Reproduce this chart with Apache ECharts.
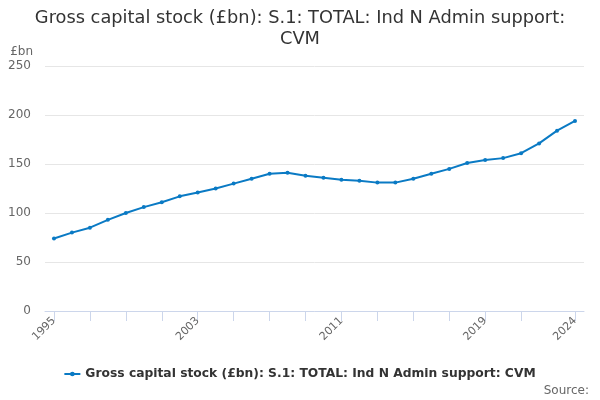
<!DOCTYPE html>
<html>
<head>
<meta charset="utf-8">
<script src="https://cdn.jsdelivr.net/npm/echarts@6/dist/echarts.min.js"></script>
<style>
html,body{margin:0;padding:0;background:#fff;}
#c{width:600px;height:400px;}
</style>
</head>
<body>
<div id="c"></div>
<script>
var years = ['1995','1996','1997','1998','1999','2000','2001','2002','2003','2004','2005','2006','2007','2008','2009','2010','2011','2012','2013','2014','2015','2016','2017','2018','2019','2020','2021','2022','2023','2024'];
var values = [74,80,85,93,100,106,111,117,121,125,130,135,140,141,138,136,134,133,131,131,135,140,145,151,154,156,161,171,184,194];
var seriesName = 'Gross capital stock (£bn): S.1: TOTAL: Ind N Admin support: CVM';
var titleText = 'Gross capital stock (£bn): S.1: TOTAL: Ind N Admin support:\nCVM';
var yTicks = {min:0, max:250, interval:50};

var chart = echarts.init(document.getElementById('c'));
var last = years.length - 1;
chart.setOption({
  animation:false,
  backgroundColor:'#fff',
  title:{
    text:titleText,
    left:'center',
    top:3,
    textStyle:{fontFamily:'DejaVu Sans',fontSize:17.8,fontWeight:'normal',color:'#333',lineHeight:21}
  },
  legend:{
    bottom:15,
    left:'center',
    itemWidth:16,
    itemHeight:5,
    itemGap:10,
    textStyle:{fontFamily:'DejaVu Sans',fontSize:12.3,fontWeight:'bold',color:'#333'},
    data:[{name:seriesName,icon:'path://M0,4L17,4L17,6L0,6Z M11,5A2.5,2.5,0,1,1,6,5A2.5,2.5,0,1,1,11,5Z'}]
  },
  graphic:[{
    type:'text',
    right:11,
    bottom:3,
    style:{text:'Source:',fontFamily:'DejaVu Sans',fontSize:12,fill:'#666'}
  }],
  grid:{left:45,right:16,top:66,bottom:89,containLabel:false},
  xAxis:{
    type:'category',
    data:years,
    boundaryGap:true,
    axisLine:{show:true,lineStyle:{color:'#ccd6eb',width:1}},
    axisTick:{
      show:true,
      alignWithLabel:true,
      length:10,
      lineStyle:{color:'#ccd6eb',width:1},
      interval:function(i){return (i%2===0 && i<last-1) || i===last;}
    },
    axisLabel:{
      rotate:45,
      color:'#666',
      fontFamily:'DejaVu Sans',
      fontSize:11,
      margin:8,
      interval:function(i){return i%8===0 || i===last;}
    }
  },
  yAxis:{
    type:'value',
    min:yTicks.min,
    max:yTicks.max,
    interval:yTicks.interval,
    name:'£bn',
    nameLocation:'end',
    nameGap:8,
    nameTextStyle:{color:'#666',fontFamily:'DejaVu Sans',fontSize:12,align:'right',padding:[0,12,0,0]},
    axisLine:{show:false},
    axisTick:{show:false},
    axisLabel:{color:'#666',fontFamily:'DejaVu Sans',fontSize:12,margin:14,padding:[3,0,0,0]},
    splitLine:{lineStyle:{color:'#e6e6e6'}}
  },
  series:[{
    name:seriesName,
    type:'line',
    data:values,
    smooth:false,
    symbol:'circle',
    symbolSize:4,
    lineStyle:{color:'#0a7ac4',width:2},
    itemStyle:{color:'#0a7ac4'}
  }]
});
</script>
</body>
</html>
